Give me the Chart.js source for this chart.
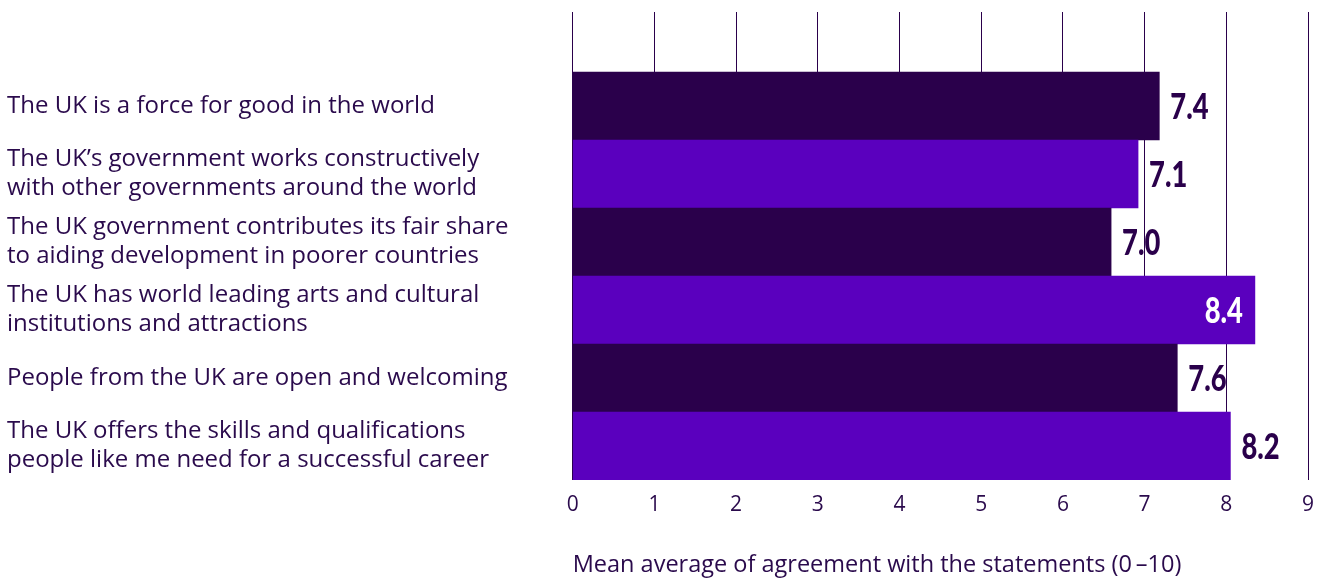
<!DOCTYPE html>
<html>
<head>
<meta charset="utf-8">
<script src="https://cdn.jsdelivr.net/npm/chart.js@4"></script>
<style>
  html, body { margin: 0; padding: 0; background: #ffffff; }
  #wrap { width: 1322px; height: 579px; position: relative; }
</style>
</head>
<body>
<div id="wrap"><canvas id="ukChart"></canvas></div>
<script>
// statements, top to bottom
const statements = [
    'The UK is a force for good in the world',
    ['The UK\u2019s government works constructively', 'with other governments around the world'],
    ['The UK government contributes its fair share', 'to aiding development in poorer countries'],
    ['The UK has world leading arts and cultural', 'institutions and attractions'],
    'People from the UK are open and welcoming',
    ['The UK offers the skills and qualifications', 'people like me need for a successful career']
];
// bar lengths as drawn, and the printed value labels
const barValues = [7.18, 6.92, 6.59, 8.35, 7.40, 8.05];
const valueLabels = ['7.4', '7.1', '7.0', '8.4', '7.6', '8.2'];
const xTicks = [0, 1, 2, 3, 4, 5, 6, 7, 8, 9];
const xTitle = 'Mean average of agreement with the statements (0\u2009\u201310)';

const DARK = '#2a004b';
const PURPLE = '#5a00be';
const TEXT = '#2a0a4c';

const valueLabelPlugin = {
    id: 'valueLabels',
    afterDatasetsDraw(chart) {
        const ctx = chart.ctx;
        const meta = chart.getDatasetMeta(0);
        const squeeze = 0.76;
        ctx.save();
        ctx.font = '900 36px Lato';
        ctx.textBaseline = 'alphabetic';
        meta.data.forEach((bar, i) => {
            const label = valueLabels[i];
            const inside = i === 3; // 8.4 sits inside its bar
            const w = ctx.measureText(label).width * squeeze;
            const x = inside ? bar.x - 12 - w : bar.x + 11;
            ctx.save();
            ctx.translate(x, bar.y + 13);
            ctx.scale(squeeze, 1);
            ctx.fillStyle = inside ? '#ffffff' : DARK;
            ctx.textAlign = 'left';
            ctx.fillText(label, 0, 0);
            ctx.restore();
        });
        ctx.restore();
    }
};

new Chart(document.getElementById('ukChart'), {
    type: 'bar',
    data: {
        datasets: [{
            data: barValues.map((v, i) => ({ x: v, y: i })),
            backgroundColor: barValues.map((_, i) => i % 2 === 0 ? DARK : PURPLE),
            barPercentage: 1,
            categoryPercentage: 1,
            borderWidth: 0
        }]
    },
    options: {
        indexAxis: 'y',
        responsive: true,
        maintainAspectRatio: false,
        animation: false,
        layout: { padding: { left: 7, right: 14, top: 12, bottom: 0 } },
        plugins: {
            legend: { display: false },
            tooltip: { enabled: false }
        },
        scales: {
            x: {
                type: 'linear',
                min: 0,
                max: 9,
                afterBuildTicks: scale => { scale.ticks = xTicks.map(v => ({ value: v })); },
                afterFit: scale => {
                    scale.height = 99;
                    scale.paddingLeft = 0;
                    scale.paddingRight = 0;
                },
                grid: { color: DARK, lineWidth: 1, drawTicks: false },
                border: { display: false },
                ticks: {
                    padding: 12,
                    color: TEXT,
                    font: { family: 'Open Sans', size: 21 }
                },
                title: {
                    display: true,
                    text: xTitle,
                    align: 'start',
                    color: TEXT,
                    font: { family: 'Open Sans', size: 23.5 },
                    padding: { top: 0, bottom: 0 }
                }
            },
            y: {
                type: 'linear',
                reverse: true,
                offset: false,
                min: -0.5 - 60 / 68,
                max: statements.length - 0.5,
                afterBuildTicks: scale => { scale.ticks = statements.map((_, i) => ({ value: i })); },
                afterFit: scale => {
                    scale.width = 565.7;
                    scale.paddingTop = 0;
                    scale.paddingBottom = 0;
                },
                grid: { display: false },
                border: { display: false },
                ticks: {
                    crossAlign: 'far',
                    color: TEXT,
                    font: { family: 'Open Sans', size: 24, lineHeight: 1.21 },
                    callback: v => statements[v]
                }
            }
        }
    },
    plugins: [valueLabelPlugin]
});
</script>
</body>
</html>
